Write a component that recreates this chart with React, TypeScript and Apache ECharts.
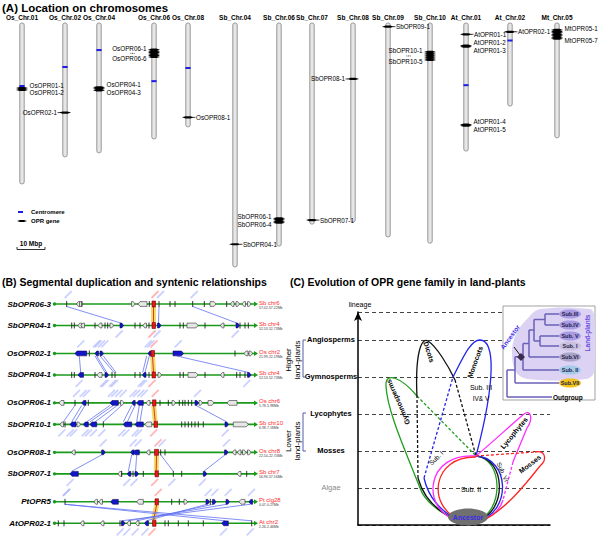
import React, { useEffect, useRef } from "react";
import * as echarts from "echarts";

const FF = "'Liberation Sans', Arial, Helvetica, sans-serif";

// ---------------- Panel A data ----------------
const chromosomes = ["Os_Chr.01", "Os_Chr.02", "Os_Chr.04", "Os_Chr.06", "Os_Chr.08", "Sb_Chr.04", "Sb_Chr.06", "Sb_Chr.07", "Sb_Chr.08", "Sb_Chr.09", "Sb_Chr.10", "At_Chr.01", "At_Chr.02", "Mt_Chr.05"];
const chromLengthMbp = [44.0, 36.6, 35.5, 31.7, 28.4, 66.7, 61.0, 55.0, 54.4, 58.5, 60.2, 35.0, 22.7, 31.4];
const centromereMbp: (number | null)[] = [17.2, 12.0, 7.4, 15.9, 12.3, null, null, null, null, null, null, 17.0, 4.8, null];
const geneChrom = [0, 1, 2, 3, 4, 5, 6, 7, 8, 9, 10, 11, 11, 11, 12, 13];
const genePosMbp = [
  [17.8, 18.3], [24.5], [17.6, 18.0, 18.4], [7.3, 7.7, 8.1, 8.5, 8.9, 9.3], [25.8], [60.5],
  [53.4, 53.8, 54.2, 54.6], [53.9], [15.3], [1.0], [7.9, 8.45, 9.0, 9.55, 10.1],
  [3.1], [6.2, 6.5], [27.8, 28.1], [2.4], [1.9, 2.3, 2.7, 3.1, 3.5, 3.9, 4.3],
];
const geneFirstLabel = ["OsOPR01-1", "OsOPR02-1", "OsOPR04-1", "OsOPR06-1", "OsOPR08-1", "SbOPR04-1", "SbOPR06-1", "SbOPR07-1", "SbOPR08-1", "SbOPR09-1", "SbOPR10-1", "AtOPR01-1", "AtOPR01-2", "AtOPR01-4", "AtOPR02-1", "MtOPR05-1"];
const geneLastLabel = ["OsOPR01-2", "", "OsOPR04-3", "OsOPR06-6", "", "", "SbOPR06-4", "", "", "", "SbOPR10-5", "", "AtOPR01-3", "AtOPR01-5", "", "MtOPR05-7"];
const geneSide = ["r", "l", "r", "l", "r", "r", "l", "r", "l", "r", "l", "r", "r", "r", "r", "r"];
// layout (px) of each chromosome column
const chromX = [22, 65, 99, 154, 188, 235, 279, 312, 353, 388, 430, 466, 510, 557];

// ---------------- Panel B data (kb within a 200 kb window) ----------------
const trackNames = ["SbOPR06-3", "SbOPR04-1", "OsOPR02-1", "SbOPR04-1", "OsOPR06-1", "SbOPR10-1", "OsOPR08-1", "SbOPR07-1", "PtOPR5", "AtOPR02-1"];
const trackChrom = ["Sb chr6", "Sb chr4", "Os chr2", "Sb chr4", "Os chr6", "Sb chr10", "Os chr8", "Sb chr7", "Pt clg28", "At chr2"];
const trackRange = ["57.02-57.22Mb", "52.53-52.73Mb", "21.99-22.19Mb", "52.53-52.73Mb", "5.78-5.98Mb", "6.98-7.18Mb", "22.54-22.74Mb", "56.96-57.16Mb", "0.07-0.27Mb", "2.26-2.46Mb"];
// gene: [start, end, kind(0 tick,1 grey,2 blue,3 OPR), strand]
const genesSbOPR06_3 = [[11.7, 11.7, 0, 1], [21.5, 23.5, 1, -1], [24.5, 26, 1, 1], [26.8, 27.8, 0, 1], [76.5, 79, 1, 1], [83, 92, 1, -1], [94.3, 94.3, 0, 1], [97, 100, 3, 1], [104, 104, 0, 1], [115, 115, 0, 1], [120, 120, 0, 1], [137.7, 137.7, 0, 1], [149.3, 149.3, 0, 1], [155, 161, 1, 1], [171.7, 171.7, 0, 1], [175.5, 178, 1, -1], [181, 183.5, 1, 1], [187, 189.5, 1, -1], [192.5, 195, 1, 1]];
const genesSbOPR04_1a = [[16.7, 16.7, 0, 1], [19.3, 19.3, 0, 1], [23, 25.5, 1, -1], [26, 29, 1, -1], [40, 40, 0, 1], [43, 47, 1, -1], [50, 50, 0, 1], [52.7, 52.7, 0, 1], [55, 57.5, 1, 1], [65, 66.5, 2, 1], [80, 80, 0, 1], [85, 85, 0, 1], [88, 91, 1, -1], [94, 94, 0, 1], [97, 100, 3, 1], [102.5, 104.5, 2, 1], [125, 125, 0, 1], [128.3, 128.3, 0, 1], [132, 143, 1, 1], [150, 150, 0, 1], [165.5, 168, 1, -1], [181, 182.5, 2, 1], [185, 185, 0, 1], [190, 190, 0, 1], [193.3, 193.3, 0, 1]];
const genesOsOPR02_1 = [[20, 31.7, 2, -1], [34.3, 34.3, 0, 1], [40, 43.3, 2, -1], [45, 48.3, 2, 1], [93, 95.5, 2, -1], [96, 99, 3, 1], [118, 128.5, 2, 1], [180, 180, 0, 1], [189, 193, 1, -1], [194, 197, 1, 1]];
const genesSbOPR04_1b = [[16.7, 16.7, 0, 1], [19.3, 19.3, 0, 1], [23, 28.5, 2, -1], [40, 40, 0, 1], [42, 47, 1, -1], [50, 53.3, 2, 1], [57, 57, 0, 1], [60, 60, 0, 1], [80, 80, 0, 1], [85, 85, 0, 1], [87.5, 89.5, 2, -1], [94, 94, 0, 1], [97, 100, 3, 1], [103, 106, 1, 1], [125, 125, 0, 1], [128.3, 128.3, 0, 1], [133, 143, 1, 1], [150, 150, 0, 1], [165.5, 168, 1, -1], [181.7, 181.7, 0, 1], [185, 185, 0, 1], [190, 190, 0, 1], [192.5, 194, 2, 1]];
const genesOsOPR06_1 = [[4, 9, 1, -1], [20, 20, 0, 1], [26.7, 31, 2, -1], [33.3, 33.3, 0, 1], [55, 63.3, 2, -1], [65.5, 67.5, 1, 1], [76.7, 80, 2, -1], [81.7, 88.3, 2, -1], [91, 95, 1, -1], [97.5, 100, 3, 1], [105, 105, 0, 1], [113.3, 113.3, 0, 1], [117, 120, 1, 1], [124.3, 124.3, 0, 1], [127.7, 127.7, 0, 1], [130, 130, 0, 1], [133.3, 133.3, 0, 1], [136.7, 136.7, 0, 1], [140, 142, 2, 1], [144, 147, 1, 1], [153, 159, 1, 1], [172, 182, 1, -1]];
const genesSbOPR10_1 = [[5, 8, 1, -1], [10, 10, 0, 1], [15, 21, 2, -1], [22, 24, 1, 1], [28.3, 33.3, 2, -1], [35, 41.7, 2, -1], [48.3, 48.3, 0, 1], [68.3, 76.7, 2, -1], [80, 88.3, 2, -1], [90, 96.7, 1, -1], [99, 101.5, 3, 1], [126.7, 126.7, 0, 1], [130, 130, 0, 1], [133.3, 133.3, 0, 1], [136.7, 136.7, 0, 1], [140, 140, 0, 1], [143.3, 143.3, 0, 1], [148.3, 148.3, 0, 1], [170, 173.3, 2, 1], [178.3, 193.3, 1, 1]];
const genesOsOPR08_1 = [[16.7, 19, 1, -1], [46.7, 50, 2, 1], [75.7, 78.3, 2, -1], [78.5, 84.3, 2, -1], [91.5, 93.5, 1, -1], [99.5, 103.5, 3, 1], [105.7, 105.7, 0, 1], [110, 110, 0, 1], [169.5, 171, 2, 1], [177.5, 180, 1, -1], [182.5, 185, 1, -1], [187.5, 190, 1, 1], [192.5, 195.5, 1, 1]];
const genesSbOPR07_1 = [[15, 23.3, 2, -1], [63, 65, 1, -1], [66.7, 66.7, 0, 1], [72.3, 75, 2, -1], [78, 78, 0, 1], [80, 81.5, 2, 1], [88.3, 88.3, 0, 1], [100, 102.5, 3, 1], [118.3, 118.3, 0, 1], [126.7, 126.7, 0, 1], [148.3, 149.8, 2, 1], [182, 186, 1, -1], [191.7, 191.7, 0, 1]];
const genesPtOPR5 = [[10, 10, 0, 1], [39, 41.5, 1, -1], [44, 46, 1, -1], [55.7, 63.3, 2, -1], [81.7, 88.3, 1, -1], [100, 103.3, 3, 1], [116.7, 116.7, 0, 1], [124.3, 124.3, 0, 1], [129, 131.5, 1, 1], [151, 152.5, 2, 1], [155.3, 155.3, 0, 1], [157.5, 159, 2, 1], [171, 172.5, 2, 1], [184, 190, 1, -1], [194, 196, 2, -1]];
const genesAtOPR02_1 = [[3.3, 3.3, 0, 1], [9, 9, 0, 1], [25.5, 27.5, 1, -1], [45.5, 47.5, 1, -1], [65, 65, 0, 1], [66.5, 68, 2, 1], [72, 74.5, 1, -1], [80.5, 83, 1, -1], [89.5, 93.5, 2, -1], [97.5, 99.5, 3, 1], [110, 110, 0, 1], [113.3, 113.3, 0, 1], [123.3, 123.3, 0, 1], [133.3, 133.3, 0, 1], [148.3, 148.3, 0, 1], [166.7, 173.3, 2, -1], [196.7, 196.7, 0, 1]];
const trackGenes = [genesSbOPR06_3, genesSbOPR04_1a, genesOsOPR02_1, genesSbOPR04_1b, genesOsOPR06_1, genesSbOPR10_1, genesOsOPR08_1, genesSbOPR07_1, genesPtOPR5, genesAtOPR02_1];
// syntenic links per pair: [kb on upper track, kb on lower track]
const linksPair1 = [[11.7, 65.7], [104, 103.5], [137.7, 181.7]];
const linksPair2 = [[24.3, 25.7], [40, 50], [41.7, 51.7], [45, 59], [48.3, 61], [91.7, 87.7], [94.3, 90], [121.7, 193.3]];
const linksPair3 = [[20, 8.3], [26.7, 16.7], [30, 20], [55, 31.7], [58.3, 35], [62.3, 40], [66.7, 48.3], [76.7, 68.3], [80, 72.3], [84.3, 81.7], [87.7, 85], [141, 171.7]];
const linksPair4 = [[46.7, 16.7], [76.7, 73.3], [81.7, 80.5], [105.7, 118.3], [170, 148.8]];
const linksPair5 = [[10, 196.7], [10, 170], [195, 66.7], [171.7, 73.3], [158.3, 81.7], [151.7, 91.5]];
const pairLinks = [linksPair1, linksPair2, linksPair3, linksPair4, linksPair5];
const pairOpr = [[98.5, 98.5], [97.5, 98.5], [98.7, 100.2], [101.5, 101.2], [101.7, 98.5]];

// ---------------- Panel C data ----------------
const lineageLevels = ["Algae", "Mosses", "Lycophytes", "Gymnosperms", "Angiosperms"];
const subfamilies = ["Sub.III", "Sub.IV", "Sub. V", "Sub. I", "Sub.VI", "Sub. II", "Sub.VII"];
const subColors = ["#a99be2", "#a99be2", "#a99be2", "#c9c1de", "#aaa4c6", "#a6cbea", "#f2c21a"];

// ---------------- helpers ----------------
const fnt = (size: number, weight = "normal", style = "normal") => `${style} ${weight} ${size}px ${FF}`;
function txt(text: string, x: number, y: number, size: number, o: any = {}) {
  const align = o.align || "left";
  const valign = o.valign || "middle";
  const el: any = {
    type: "text",
    x,
    y,
    rotation: o.rotation || 0,
    style: {
      text,
      x: 0,
      y: 0,
      font: fnt(size, o.weight || "normal", o.fstyle || "normal"),
      fill: o.fill || "#000",
      align,
      textAlign: align,
      verticalAlign: valign,
      textVerticalAlign: valign,
      lineHeight: o.lineHeight,
    },
  };
  if (o.z !== undefined) el.z = o.z;
  return el;
}
const trackRow = (t: number) => Math.floor(t / 2) * 2.3 + (t % 2);

function labelMark(x: number, y: number, dir: number, color: string) {
  const shape = dir < 0 ? { x1: x - 2, y1: y - 6, x2: x + 5, y2: y - 13 } : { x1: x - 5, y1: y + 12, x2: x + 2, y2: y + 5 };
  return { type: "line", shape, style: { stroke: color, lineWidth: 1.8, opacity: 0.45 } };
}
function dots(x: number, y: number) {
  return [-1.6, 0, 1.6].map((d) => ({ type: "circle", shape: { cx: x + d, cy: y, r: 0.45 }, style: { fill: "#000" } }));
}

function buildGraphic() {
  const els: any[] = [];
  const Z = 50;
  // titles
  els.push(txt("(A) Location on chromosomes", 2, 8, 11.5, { weight: "bold", z: Z }));
  els.push(txt("(B) Segmental duplication and syntenic relationships", 2, 282, 10.5, { weight: "bold", z: Z }));
  els.push(txt("(C) Evolution of OPR gene family in land-plants", 290, 282, 10.5, { weight: "bold", z: Z }));
  // legend of A
  els.push({ type: "rect", shape: { x: 18, y: 211, width: 5, height: 2 }, style: { fill: "#1c1ce6" }, z: Z });
  els.push(txt("Centromere", 31, 212, 6, { weight: "bold", z: Z }));
  els.push({ type: "polygon", shape: { points: [[17, 221], [20, 220], [24, 220], [27, 221], [24, 222], [20, 222]] }, style: { fill: "#000" }, z: Z });
  els.push(txt("OPR gene", 31, 221, 6, { weight: "bold", z: Z }));
  els.push(txt("10 Mbp", 31, 243.5, 6.5, { weight: "bold", align: "center", z: Z }));
  els.push({ type: "polyline", shape: { points: [[17, 247], [17, 249.5], [45, 249.5], [45, 247]] }, style: { stroke: "#000", lineWidth: 0.8, fill: "none" }, z: Z });

  // Panel C brackets and group labels
  const BR = "#5a5aa8";
  els.push({ type: "polyline", shape: { points: [[306, 340], [303, 340], [303, 377], [306, 377]] }, style: { stroke: BR, lineWidth: 1, fill: "none" }, z: Z });
  els.push({ type: "polyline", shape: { points: [[306, 413], [303, 413], [303, 451], [306, 451]] }, style: { stroke: BR, lineWidth: 1, fill: "none" }, z: Z });
  els.push(txt("Higher\nland-plants", 293, 360, 8, { align: "center", rotation: Math.PI / 2, lineHeight: 9, z: Z }));
  els.push(txt("Lower\nland-plants", 293, 441, 8, { align: "center", rotation: Math.PI / 2, lineHeight: 9, z: Z }));
  els.push(txt("lineage", 360, 304, 7, { align: "center", z: Z }));

  // loops
  const G = "#1f9e1f", K = "#111111", B = "#2424f0", M = "#ff2cff", R = "#ff2424";
  const bz = (x1: number, y1: number, c1x: number, c1y: number, c2x: number, c2y: number, x2: number, y2: number, color: string, dash = false) =>
    ({ type: "bezierCurve", shape: { x1, y1, x2, y2, cpx1: c1x, cpy1: c1y, cpx2: c2x, cpy2: c2y }, style: { stroke: color, lineWidth: 1.3, fill: "none", lineDash: dash ? [3, 2] : null }, z: Z });
  const ln = (x1: number, y1: number, x2: number, y2: number, color: string, dash = false, w = 1.3) =>
    ({ type: "line", shape: { x1, y1, x2, y2 }, style: { stroke: color, lineWidth: w, lineDash: dash ? [3, 2] : null }, z: Z });
  // green: gymnosperms
  els.push(bz(455, 519, 438, 512, 424, 500, 420, 488, G));
  els.push(bz(420, 488, 405, 450, 387, 410, 386, 386, G));
  els.push(bz(386, 386, 385, 372, 400, 376, 417, 396, G));
  els.push(ln(417, 396, 476, 456, G, true));
  els.push(bz(476, 456, 503, 458, 505, 512, 476, 521, G));
  // black: dicots
  els.push(bz(457, 520, 440, 513, 424, 500, 418, 478, K));
  els.push(ln(418, 478, 417, 397, K, true));
  els.push(bz(417, 397, 415, 355, 421, 337, 428, 341, K));
  els.push(bz(428, 341, 436, 346, 448, 365, 455, 380, K));
  els.push(ln(455, 380, 476, 456, K, true));
  els.push(bz(476, 456, 506, 458, 508, 512, 477, 521, K));
  // blue: monocots
  els.push(bz(459, 520, 440, 512, 428, 496, 424, 478, B));
  els.push(ln(424, 478, 453, 377, B, true));
  els.push(bz(453, 377, 462, 360, 470, 340, 480, 340, B));
  els.push(bz(480, 340, 495, 340, 496, 380, 476, 456, B));
  els.push(bz(476, 456, 510, 458, 512, 512, 478, 521, B));
  // pink: lycophytes
  els.push(bz(476, 456, 495, 440, 512, 424, 524, 414, M));
  els.push(bz(524, 414, 530, 409, 534, 418, 527, 428, M));
  els.push(bz(527, 428, 522, 440, 517, 452, 513, 462, M));
  els.push(ln(513, 462, 503, 500, M, true));
  els.push(bz(503, 500, 500, 510, 492, 517, 480, 521, M));
  els.push(bz(456, 520, 420, 508, 426, 452, 476, 456, M));
  // red: mosses
  els.push(ln(476, 456, 535, 452, R, true));
  els.push(bz(535, 452, 545, 450, 548, 459, 540, 466, R));
  els.push(bz(540, 466, 525, 485, 505, 510, 482, 521, R));
  els.push(bz(460, 520, 426, 506, 432, 456, 476, 457, R));
  // ancestor
  els.push({ type: "ellipse", shape: { cx: 468, cy: 517, rx: 20, ry: 8.5 }, style: { fill: "#707070" }, z: Z + 2 });
  els.push(txt("Ancestor", 468, 517, 7, { weight: "bold", align: "center", fill: "#3a2ae8", z: Z + 3 }));
  // loop labels
  els.push(txt("Gymnosperms", 398, 402, 7, { weight: "bold", align: "center", rotation: 1.99, z: Z }));
  els.push(txt("Dicots", 429, 352, 7, { weight: "bold", align: "center", rotation: -1.26, z: Z }));
  els.push(txt("Monocots", 475, 362, 7, { weight: "bold", align: "center", rotation: 1.22, z: Z }));
  els.push(txt("Lycophytes", 514, 433, 7, { weight: "bold", align: "center", rotation: 0.88, z: Z }));
  els.push(txt("Mosses", 530, 464, 7, { weight: "bold", align: "center", rotation: 0.65, z: Z }));
  els.push(txt("Sub. I", 436, 458, 6.5, { align: "center", rotation: 0.79, z: Z }));
  els.push(txt("Sub. II", 471, 489, 7, { align: "center", z: Z }));
  els.push(txt("Sub. VI", 503, 472, 6.3, { align: "center", rotation: -1.15, z: Z }));
  els.push(txt("Sub. III", 481, 387, 7, { align: "center", z: Z }));
  els.push(txt("IV& V", 481, 398, 6.5, { align: "center", z: Z }));

  // inset tree
  const ZI = 70;
  els.push({ type: "rect", shape: { x: 503, y: 306, width: 92, height: 94 }, style: { fill: "#ffffff", stroke: "#8a8a8a", lineWidth: 0.8 }, z: ZI });
  els.push({ type: "polygon", shape: { points: [[540, 309], [590, 309], [594, 315], [594, 372], [586, 379], [528, 379], [516, 372], [512, 352], [516, 334], [528, 318]], smooth: 0.35 }, style: { fill: "#dcd2f4" }, z: ZI + 1 });
  const TC = "#6a60b8";
  const leafY = [314, 325, 336, 346, 357, 370, 383];
  const tl = (x1: number, y1: number, x2: number, y2: number) => ({ type: "line", shape: { x1, y1, x2, y2 }, style: { stroke: TC, lineWidth: 1.5 }, z: ZI + 2 });
  const LX = 559;
  els.push(tl(545, leafY[0], 545, leafY[1]), tl(545, leafY[0], LX, leafY[0]), tl(545, leafY[1], LX, leafY[1]));
  els.push(tl(540, leafY[2], 540, leafY[3]), tl(540, leafY[2], LX, leafY[2]), tl(540, leafY[3], LX, leafY[3]));
  els.push(tl(534, 319.5, 534, 341), tl(534, 319.5, 545, 319.5), tl(534, 341, 540, 341));
  els.push(tl(529, 330, 529, leafY[4]), tl(529, 330, 534, 330), tl(529, leafY[4], LX, leafY[4]));
  els.push(tl(523, 343.5, 523, leafY[5]), tl(523, 343.5, 529, 343.5), tl(523, leafY[5], LX, leafY[5]));
  els.push(tl(515, 356.75, 515, leafY[6]), tl(515, 356.75, 523, 356.75), tl(515, leafY[6], LX, leafY[6]));
  els.push(tl(507, 370, 507, 397), tl(507, 370, 515, 370), tl(507, 397, 552, 397));
  els.push({ type: "polygon", shape: { points: [[521, 353], [525, 357], [521, 361], [517, 357]] }, style: { fill: "#3a2a50" }, z: ZI + 3 });
  els.push({ type: "line", shape: { x1: 520, y1: 355, x2: 514, y2: 347 }, style: { stroke: "#111", lineWidth: 1 }, z: ZI + 3 });
  els.push(txt("Ancestor", 510, 337, 6.5, { weight: "bold", align: "center", fill: "#3a2ae8", rotation: 0.95, z: ZI + 3 }));
  subfamilies.forEach((s, i) => {
    els.push({ type: "ellipse", shape: { cx: 570, cy: leafY[i], rx: 11, ry: 4.6 }, style: { fill: subColors[i] }, z: ZI + 3 });
    els.push(txt(s, 570, leafY[i], 5.5, { weight: "bold", align: "center", fill: "#22224a", z: ZI + 4 }));
  });
  els.push(txt("Outgroup", 553, 397, 6.5, { weight: "bold", z: ZI + 3 }));
  els.push(txt("Land-plants", 587, 333, 6.5, { weight: "bold", align: "center", fill: "#6a4ae0", rotation: Math.PI / 2, z: ZI + 3 }));
  return els;
}

function buildOption(): any {
  const chromSeries = {
    type: "custom",
    xAxisIndex: 0,
    yAxisIndex: 0,
    clip: false,
    silent: true,
    z: 2,
    data: chromosomes.map((_, i) => [i, chromLengthMbp[i]]),
    renderItem: (_p: any, api: any) => {
      const i = api.value(0);
      const len = api.value(1);
      const top = api.coord([chromX[i], 0]);
      const bot = api.coord([chromX[i], len]);
      const cx = top[0];
      const children: any[] = [
        { type: "rect", shape: { x: cx - 2.2, y: top[1], width: 4.4, height: bot[1] - top[1], r: 2 }, style: { fill: "#e6e6e6", stroke: "#8c8c8c", lineWidth: 0.9 } },
        txt(chromosomes[i], cx, top[1] - 2, 6.5, { weight: "bold", align: "center", valign: "bottom" }),
      ];
      const c = centromereMbp[i];
      if (c != null) {
        const yc = api.coord([chromX[i], c])[1];
        children.push({ type: "rect", shape: { x: cx - 2.6, y: yc - 1, width: 5.2, height: 2 }, style: { fill: "#1c1ce6" } });
      }
      return { type: "group", children };
    },
  };
  const geneSeries = {
    type: "custom",
    xAxisIndex: 0,
    yAxisIndex: 0,
    clip: false,
    silent: true,
    z: 3,
    data: geneChrom.map((_, g) => [g, 0]),
    renderItem: (_p: any, api: any) => {
      const g = api.value(0);
      const c = geneChrom[g];
      const pos = genePosMbp[g];
      const cx = api.coord([chromX[c], 0])[0];
      const ys = pos.map((p) => api.coord([chromX[c], p])[1]);
      const children: any[] = [];
      ys.forEach((y) => {
        children.push({ type: "polygon", shape: { points: [[cx - 6, y], [cx - 2.5, y - 1.1], [cx + 2.5, y - 1.1], [cx + 6, y], [cx + 2.5, y + 1.1], [cx - 2.5, y + 1.1]] }, style: { fill: "#000" } });
      });
      const right = geneSide[g] === "r";
      const lx = right ? cx + 7.5 : cx - 7.5;
      const align = right ? "left" : "right";
      if (pos.length === 1) {
        children.push({ type: "line", shape: { x1: cx + (right ? 5 : -5), y1: ys[0], x2: lx, y2: ys[0] }, style: { stroke: "#000", lineWidth: 0.7 } });
        children.push(txt(geneFirstLabel[g], lx + (right ? 0.5 : -0.5), ys[0], 6.3, { align }));
      } else {
        const mid = (ys[0] + ys[ys.length - 1]) / 2;
        const y1 = Math.min(ys[0] - 1.5, mid - 3.9);
        const y2 = Math.max(ys[ys.length - 1] + 1.5, mid + 3.9);
        children.push(txt(geneFirstLabel[g], lx, y1, 6.3, { align }));
        children.push(txt(geneLastLabel[g], lx, y2, 6.3, { align }));
        if (pos.length >= 4) children.push(...dots(lx + (right ? 14 : -14), mid));
      }
      return { type: "group", children };
    },
  };
  const linkSeries = {
    type: "custom",
    xAxisIndex: 1,
    yAxisIndex: 1,
    clip: false,
    silent: true,
    z: 2,
    data: pairLinks.map((_, p) => [p, 0]),
    renderItem: (_p: any, api: any) => {
      const p = api.value(0);
      const rt = p * 2.3;
      const rb = rt + 1;
      const children: any[] = [];
      const o = pairOpr[p];
      const a = api.coord([o[0], rt]);
      const b = api.coord([o[1], rb]);
      children.push({ type: "line", shape: { x1: a[0], y1: a[1] + 3, x2: b[0], y2: b[1] - 3 }, style: { stroke: "#f2dc6a", lineWidth: 5 } });
      children.push({ type: "line", shape: { x1: a[0], y1: a[1] + 3, x2: b[0], y2: b[1] - 3 }, style: { stroke: "#e03a20", lineWidth: 1 } });
      children.push(labelMark(a[0], a[1], -1, "#ff5a5a"));
      children.push(labelMark(b[0], b[1], 1, "#ff5a5a"));
      pairLinks[p].forEach(([tk, bk]) => {
        const s = api.coord([tk, rt]);
        const e = api.coord([bk, rb]);
        children.push({ type: "line", shape: { x1: s[0], y1: s[1] + 2.5, x2: e[0], y2: e[1] - 2.5 }, style: { stroke: "#6272f2", lineWidth: 0.8 } });
        children.push(labelMark(s[0], s[1], -1, "#8d9bff"));
        children.push(labelMark(e[0], e[1], 1, "#8d9bff"));
      });
      return { type: "group", children };
    },
  };
  const trackSeries = {
    type: "custom",
    xAxisIndex: 1,
    yAxisIndex: 1,
    clip: false,
    silent: true,
    z: 3,
    data: trackNames.map((_, t) => [t, 0]),
    renderItem: (_p: any, api: any) => {
      const t = api.value(0);
      const row = trackRow(t);
      const s = api.coord([0, row]);
      const e = api.coord([200, row]);
      const y = s[1];
      const GR = "#1a9a1a";
      const children: any[] = [
        { type: "line", shape: { x1: s[0], y1: y, x2: e[0], y2: y }, style: { stroke: GR, lineWidth: 1.6 } },
        { type: "circle", shape: { cx: s[0] - 0.5, cy: y, r: 1.7 }, style: { fill: GR } },
        { type: "polygon", shape: { points: [[e[0] - 1, y - 2.5], [e[0] + 3, y], [e[0] - 1, y + 2.5]] }, style: { fill: GR } },
      ];
      trackGenes[t].forEach(([ga, gb, k, st]) => {
        const xa = api.coord([ga, row])[0];
        const xb = api.coord([gb, row])[0];
        if (k === 0) {
          children.push({ type: "line", shape: { x1: xa, y1: y - 3, x2: xa, y2: y + 3 }, style: { stroke: "#222", lineWidth: 0.9 } });
        } else if (k === 3) {
          children.push({ type: "rect", shape: { x: xa, y: y - 3, width: Math.max(xb - xa, 3.5), height: 6 }, style: { fill: "#e81818", stroke: "#700", lineWidth: 0.6 } });
        } else {
          const w = Math.max(xb - xa, 3.5);
          const h = 2.4;
          const tip = Math.min(2, w * 0.5);
          const x0 = xa;
          const pts = st > 0
            ? [[x0, y - h], [x0 + w - tip, y - h], [x0 + w, y], [x0 + w - tip, y + h], [x0, y + h]]
            : [[x0 + w, y - h], [x0 + tip, y - h], [x0, y], [x0 + tip, y + h], [x0 + w, y + h]];
          children.push({ type: "polygon", shape: { points: pts }, style: { fill: k === 1 ? "#e6e6e6" : "#1414c8", stroke: k === 1 ? "#333" : "#0a0a60", lineWidth: 0.6 } });
        }
      });
      children.push(txt(trackNames[t], s[0] - 4, y, 8, { weight: "bold", fstyle: "italic", align: "right" }));
      children.push(txt(trackChrom[t], e[0] + 4, y - 1.5, 6, { fill: "#ff2a2a" }));
      children.push(txt(trackRange[t], e[0] + 4, y + 3.5, 3.5, { fill: "#444" }));
      return { type: "group", children };
    },
  };

  return {
    animation: false,
    backgroundColor: "#ffffff",
    textStyle: { fontFamily: FF },
    grid: [
      { left: 0, top: 23, width: 600, height: 256 },
      { left: 55, top: 304, width: 200, height: 219.3 },
      { left: 358, top: 312, width: 192, height: 213 },
    ],
    xAxis: [
      { gridIndex: 0, type: "value", min: 0, max: 600, show: false },
      { gridIndex: 1, type: "value", min: 0, max: 200, show: false },
      {
        gridIndex: 2, type: "value", min: 0, max: 192,
        axisLine: { show: true, lineStyle: { color: "#000", width: 1.5 } },
        axisTick: { show: false }, axisLabel: { show: false }, splitLine: { show: false },
      },
    ],
    yAxis: [
      { gridIndex: 0, type: "value", min: 0, max: 70, inverse: true, show: false },
      { gridIndex: 1, type: "value", min: 0, max: 10.2, inverse: true, show: false },
      {
        gridIndex: 2, type: "value", min: 0, max: 5.75, interval: 1,
        axisLine: { show: true, symbol: ["none", "arrow"], symbolSize: [6, 9], lineStyle: { color: "#000", width: 1.5 } },
        axisTick: { show: false },
        splitLine: { show: true, lineStyle: { type: [4, 3], color: "#444", width: 1 } },
        axisLabel: {
          margin: 27,
          align: "center",
          formatter: (v: number) => {
            const idx = Math.round(v);
            if (Math.abs(v - idx) > 1e-6 || idx < 1 || idx > 5) return "";
            return idx === 1 ? `{g|${lineageLevels[0]}}` : `{b|${lineageLevels[idx - 1]}}`;
          },
          rich: {
            g: { fontSize: 7.5, color: "#8a8a8a", fontFamily: FF },
            b: { fontSize: 7.5, fontWeight: "bold", color: "#000", fontFamily: FF },
          },
        },
      },
    ],
    series: [chromSeries, geneSeries, linkSeries, trackSeries],
    graphic: { elements: buildGraphic() },
  };
}

export default function App() {
  const ref = useRef<HTMLDivElement>(null);
  useEffect(() => {
    document.body.style.margin = "0";
    if (!ref.current) return;
    const chart = echarts.init(ref.current, undefined, { renderer: "svg" });
    chart.setOption(buildOption());
    return () => chart.dispose();
  }, []);
  return <div ref={ref} style={{ width: 600, height: 538 }} />;
}
